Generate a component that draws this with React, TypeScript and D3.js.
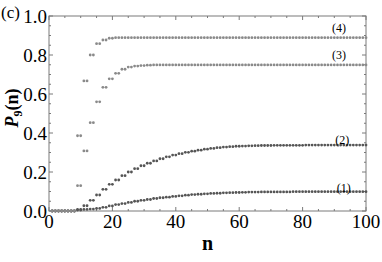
import React from "react";
import * as d3 from "d3";

// Values per pair of consecutive n: (1,2), (3,4), ..., (99,100)
const series4 = [0, 0, 0, 0, 0.386, 0.667, 0.8, 0.858, 0.877, 0.886,
  0.889, 0.889, 0.889, 0.889, 0.889, 0.889, 0.889, 0.889, 0.889, 0.889,
  0.889, 0.889, 0.889, 0.889, 0.889, 0.889, 0.889, 0.889, 0.889, 0.889,
  0.889, 0.889, 0.889, 0.889, 0.889, 0.889, 0.889, 0.889, 0.889, 0.889,
  0.889, 0.889, 0.889, 0.889, 0.889, 0.889, 0.889, 0.889, 0.889, 0.889];
const series3 = [0, 0, 0, 0, 0.13, 0.308, 0.453, 0.56, 0.634, 0.678,
  0.706, 0.727, 0.738, 0.743, 0.746, 0.748, 0.749, 0.749, 0.749, 0.749,
  0.749, 0.749, 0.749, 0.749, 0.749, 0.749, 0.749, 0.749, 0.749, 0.749,
  0.749, 0.749, 0.749, 0.749, 0.749, 0.749, 0.749, 0.749, 0.749, 0.749,
  0.749, 0.749, 0.749, 0.749, 0.749, 0.749, 0.749, 0.749, 0.749, 0.749];
const series2 = [0, 0, 0, 0, 0.008, 0.027, 0.055, 0.082, 0.111, 0.137,
  0.159, 0.181, 0.2, 0.217, 0.232, 0.245, 0.257, 0.268, 0.278, 0.287,
  0.294, 0.301, 0.307, 0.312, 0.317, 0.321, 0.325, 0.328, 0.33, 0.332,
  0.333, 0.334, 0.335, 0.336, 0.336, 0.337, 0.337, 0.337, 0.337, 0.337,
  0.338, 0.338, 0.338, 0.338, 0.338, 0.338, 0.338, 0.338, 0.338, 0.338];
const series1 = [0, 0, 0, 0, 0.005, 0.008, 0.01, 0.013, 0.019, 0.026,
  0.033, 0.038, 0.044, 0.05, 0.055, 0.059, 0.064, 0.068, 0.071, 0.075,
  0.078, 0.081, 0.084, 0.086, 0.088, 0.09, 0.091, 0.093, 0.094, 0.095,
  0.096, 0.097, 0.097, 0.098, 0.098, 0.098, 0.098, 0.098, 0.099, 0.099,
  0.099, 0.099, 0.099, 0.099, 0.099, 0.099, 0.099, 0.099, 0.099, 0.099];

const xTicks = [0, 20, 40, 60, 80, 100];
const yTicks = [0, 0.2, 0.4, 0.6, 0.8, 1.0];
const seriesLabels = ["(1)", "(2)", "(3)", "(4)"];
const labelPos = [
  { n: 93, v: 0.1 },
  { n: 92.5, v: 0.345 },
  { n: 91.5, v: 0.78 },
  { n: 91.5, v: 0.92 },
];

const W = 382, H = 262;
const L = 49, R = 366, T = 16, B = 211;
const FONT = "'Liberation Serif', 'Times New Roman', serif";

export default function App() {
  const x = d3.scaleLinear().domain([0, 100]).range([L, R]);
  const y = d3.scaleLinear().domain([0, 1]).range([B, T]);
  const all = [
    { vals: series1, color: "#555555" },
    { vals: series2, color: "#555555" },
    { vals: series3, color: "#8a8a8a" },
    { vals: series4, color: "#8a8a8a" },
  ];
  const minorX = d3.range(0, 101, 5);
  const minorY = d3.range(0, 1.0001, 0.05);
  const frame = "#7a7a7a";
  return (
    <svg width={W} height={H} style={{ position: "absolute", left: 0, top: 0, background: "#fff" }}>
      <rect x={L} y={T} width={R - L} height={B - T} fill="none" stroke={frame} strokeWidth={1} />
      {minorX.map((t, i) => {
        const major = t % 20 === 0;
        const len = major ? 4 : 2;
        return (
          <g key={"xt" + i} stroke={frame} strokeWidth={1}>
            <line x1={x(t)} x2={x(t)} y1={B} y2={B - len} />
            <line x1={x(t)} x2={x(t)} y1={T} y2={T + len} />
          </g>
        );
      })}
      {minorY.map((t, i) => {
        const major = i % 4 === 0;
        const len = major ? 4 : 2;
        return (
          <g key={"yt" + i} stroke={frame} strokeWidth={1}>
            <line x1={L} x2={L + len} y1={y(t)} y2={y(t)} />
            <line x1={R} x2={R - len} y1={y(t)} y2={y(t)} />
          </g>
        );
      })}
      {all.map((s, si) => (
        <g key={"s" + si} fill={s.color}>
          {s.vals.flatMap((v, k) => [2 * k + 1, 2 * k + 2].map((n) => (
            <circle key={n} cx={x(n)} cy={y(v)} r={1.4} />
          )))}
        </g>
      ))}
      {yTicks.map((t) => (
        <text key={"yl" + t} x={L - 2} y={y(t)} dy="0.35em" textAnchor="end"
          fontFamily={FONT} fontSize={19} fill="#000">{d3.format(".1f")(t)}</text>
      ))}
      {xTicks.map((t) => (
        <text key={"xl" + t} x={x(t)} y={228} textAnchor="middle"
          fontFamily={FONT} fontSize={19} fill="#000">{t}</text>
      ))}
      <text x={(L + R) / 2} y={250} textAnchor="middle" fontFamily={FONT} fontSize={20} fontWeight="bold">n</text>
      <text transform={`translate(18,108) rotate(-90)`} textAnchor="middle" fontFamily={FONT} fontSize={18} fontWeight="bold">
        <tspan fontStyle="italic">P</tspan>
        <tspan fontSize={12} dy={4}>9</tspan>
        <tspan dy={-4}>(n)</tspan>
      </text>
      <text x={1} y={18} fontFamily={FONT} fontSize={17}>(c)</text>
      {seriesLabels.map((lab, i) => (
        <text key={lab} x={x(labelPos[i].n)} y={y(labelPos[i].v)} textAnchor="middle"
          fontFamily={FONT} fontSize={12} fill="#000">{lab}</text>
      ))}
    </svg>
  );
}
